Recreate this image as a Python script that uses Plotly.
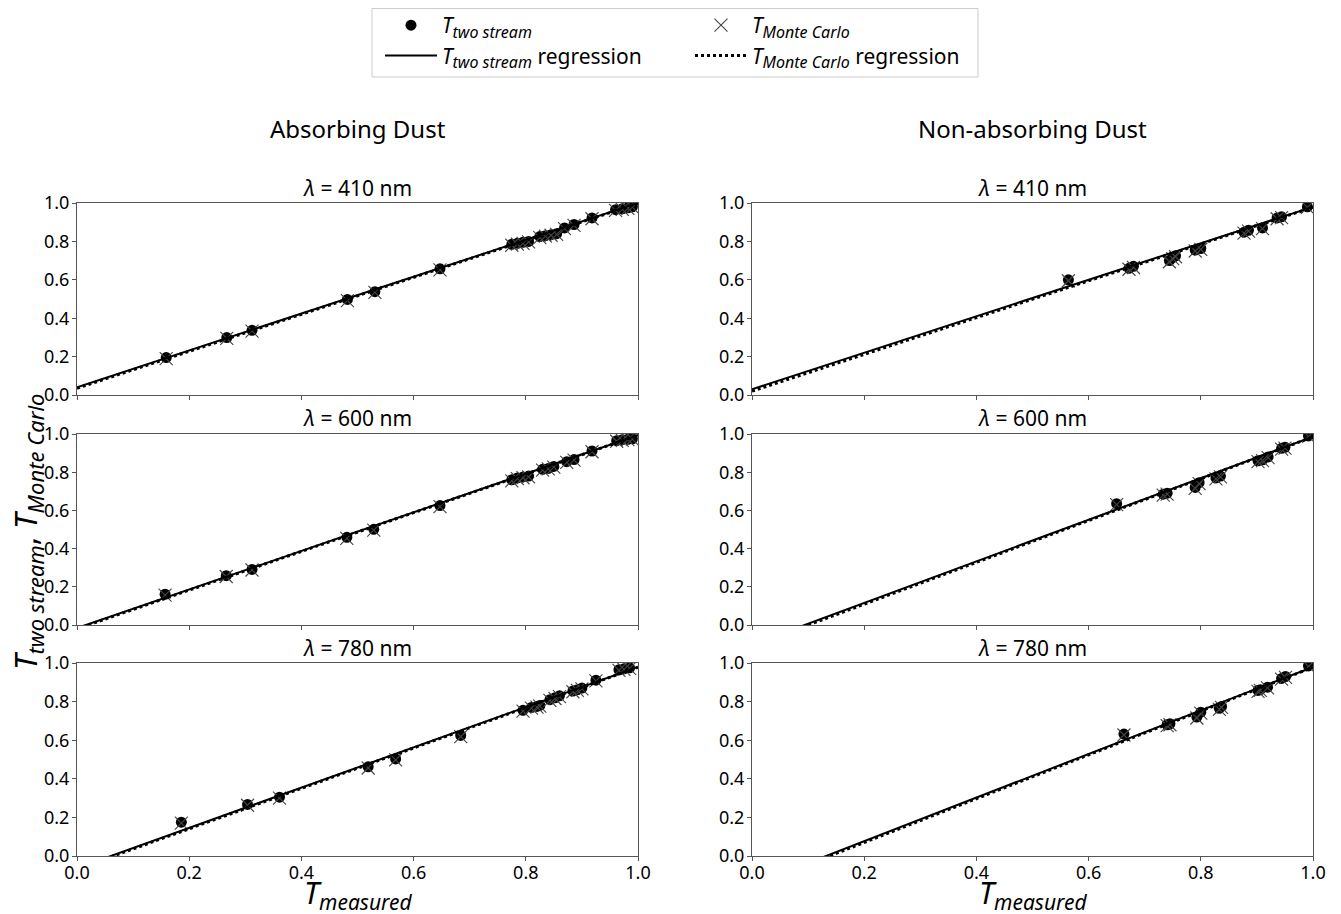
import plotly.graph_objects as go
from plotly.subplots import make_subplots

# ---------------- data ----------------
wavelengths = ["410", "600", "780"]
columns = ["Absorbing Dust", "Non-absorbing Dust"]

# Absorbing dust
abs_410_x   = [0.159, 0.267, 0.312, 0.482, 0.531, 0.647, 0.775, 0.785, 0.795, 0.805, 0.825, 0.835, 0.845, 0.855, 0.869, 0.886, 0.918, 0.960, 0.972, 0.982, 0.990]
abs_410_two = [0.195, 0.299, 0.337, 0.498, 0.538, 0.657, 0.785, 0.790, 0.795, 0.800, 0.825, 0.830, 0.835, 0.840, 0.870, 0.888, 0.922, 0.965, 0.970, 0.975, 0.980]
abs_410_mc  = [0.190, 0.295, 0.333, 0.492, 0.534, 0.652, 0.780, 0.786, 0.790, 0.797, 0.820, 0.827, 0.832, 0.837, 0.866, 0.884, 0.918, 0.962, 0.967, 0.972, 0.978]

abs_600_x   = [0.157, 0.266, 0.312, 0.481, 0.529, 0.647, 0.775, 0.785, 0.795, 0.805, 0.830, 0.840, 0.850, 0.873, 0.886, 0.918, 0.962, 0.972, 0.982, 0.990]
abs_600_two = [0.161, 0.258, 0.291, 0.459, 0.501, 0.625, 0.760, 0.770, 0.775, 0.780, 0.815, 0.820, 0.830, 0.855, 0.866, 0.911, 0.965, 0.970, 0.972, 0.975]
abs_600_mc  = [0.156, 0.254, 0.288, 0.453, 0.497, 0.620, 0.755, 0.766, 0.771, 0.776, 0.811, 0.817, 0.826, 0.851, 0.863, 0.907, 0.962, 0.967, 0.970, 0.973]

abs_780_x   = [0.186, 0.304, 0.361, 0.519, 0.568, 0.684, 0.795, 0.810, 0.820, 0.825, 0.843, 0.852, 0.860, 0.884, 0.892, 0.900, 0.925, 0.966, 0.975, 0.985]
abs_780_two = [0.175, 0.267, 0.305, 0.462, 0.503, 0.625, 0.755, 0.770, 0.775, 0.780, 0.810, 0.820, 0.830, 0.855, 0.862, 0.870, 0.911, 0.965, 0.970, 0.975]
abs_780_mc  = [0.170, 0.263, 0.300, 0.456, 0.498, 0.619, 0.751, 0.766, 0.771, 0.776, 0.806, 0.816, 0.826, 0.851, 0.858, 0.866, 0.907, 0.962, 0.967, 0.972]

# Non-absorbing dust
non_410_x   = [0.564, 0.672, 0.680, 0.744, 0.750, 0.755, 0.790, 0.800, 0.877, 0.885, 0.910, 0.936, 0.944, 0.990]
non_410_two = [0.600, 0.660, 0.670, 0.700, 0.715, 0.725, 0.755, 0.763, 0.848, 0.858, 0.870, 0.922, 0.928, 0.980]
non_410_mc  = [0.595, 0.655, 0.664, 0.694, 0.710, 0.720, 0.750, 0.758, 0.843, 0.853, 0.866, 0.918, 0.924, 0.977]

non_600_x   = [0.650, 0.733, 0.740, 0.790, 0.797, 0.827, 0.835, 0.902, 0.910, 0.920, 0.944, 0.950, 0.992]
non_600_two = [0.635, 0.685, 0.690, 0.720, 0.745, 0.770, 0.780, 0.860, 0.865, 0.880, 0.925, 0.930, 0.990]
non_600_mc  = [0.630, 0.680, 0.685, 0.715, 0.740, 0.765, 0.775, 0.855, 0.861, 0.876, 0.921, 0.926, 0.987]

non_780_x   = [0.663, 0.740, 0.745, 0.793, 0.800, 0.833, 0.837, 0.902, 0.906, 0.919, 0.944, 0.951, 0.992]
non_780_two = [0.632, 0.680, 0.685, 0.720, 0.745, 0.765, 0.775, 0.858, 0.862, 0.875, 0.920, 0.930, 0.985]
non_780_mc  = [0.627, 0.675, 0.680, 0.715, 0.740, 0.760, 0.770, 0.853, 0.858, 0.871, 0.916, 0.926, 0.982]

# regression (intercept, slope) for two-stream and Monte Carlo
abs_reg_two = [(0.040, 0.960), (-0.016, 1.010), (-0.063, 1.043)]
abs_reg_mc  = [(0.035, 0.963), (-0.020, 1.013), (-0.068, 1.046)]
non_reg_two = [(0.030, 0.950), (-0.102, 1.088), (-0.149, 1.129)]
non_reg_mc  = [(0.020, 0.958), (-0.110, 1.095), (-0.157, 1.135)]
reg_x = [0.0, 1.0]

panels = {
    (0, 0): (abs_410_x, abs_410_two, abs_410_mc, abs_reg_two[0], abs_reg_mc[0]),
    (1, 0): (abs_600_x, abs_600_two, abs_600_mc, abs_reg_two[1], abs_reg_mc[1]),
    (2, 0): (abs_780_x, abs_780_two, abs_780_mc, abs_reg_two[2], abs_reg_mc[2]),
    (0, 1): (non_410_x, non_410_two, non_410_mc, non_reg_two[0], non_reg_mc[0]),
    (1, 1): (non_600_x, non_600_two, non_600_mc, non_reg_two[1], non_reg_mc[1]),
    (2, 1): (non_780_x, non_780_two, non_780_mc, non_reg_two[2], non_reg_mc[2]),
}

# ---------------- layout geometry ----------------
W, H = 1341, 914
OFF = 8  # page body margin offset
FONT = "Noto Sans"
col_px = [(77 - OFF, 638 - OFF), (752 - OFF, 1313 - OFF)]
row_px = [(203 - OFF, 395 - OFF), (434 - OFF, 625 - OFF), (663 - OFF, 856 - OFF)]


def px_x(p):
    return (p - OFF) / W


def px_y(p):
    return 1 - (p - OFF) / H


def sub(text, px):
    return f'<sub><span style="font-size:{px}px">{text}</span></sub>'


fig = make_subplots(rows=3, cols=2)

lab_two = "<i>T" + sub("two stream", 16) + "</i>"
lab_mc = "<i>T" + sub("Monte Carlo", 16) + "</i>"

for (r, c), (xs, ytwo, ymc, rtwo, rmc) in panels.items():
    first = (r == 0 and c == 0)
    fig.add_trace(go.Scatter(
        x=xs, y=ytwo, mode="markers",
        marker=dict(symbol="circle", size=11, color="black"),
        name=lab_two, showlegend=first, legend="legend"), row=r + 1, col=c + 1)
    fig.add_trace(go.Scatter(
        x=xs, y=ymc, mode="markers",
        marker=dict(symbol="x-thin-open", size=13, color="#444",
                    line=dict(width=1.1, color="#444")),
        name=lab_mc, showlegend=first, legend="legend2"), row=r + 1, col=c + 1)
    fig.add_trace(go.Scatter(
        x=reg_x, y=[rtwo[0] + rtwo[1] * v for v in reg_x], mode="lines",
        line=dict(color="black", width=2),
        name=lab_two + " regression", showlegend=first, legend="legend"), row=r + 1, col=c + 1)
    fig.add_trace(go.Scatter(
        x=reg_x, y=[rmc[0] + rmc[1] * v for v in reg_x], mode="lines",
        line=dict(color="black", width=3, dash="dot"),
        name=lab_mc + " regression", showlegend=first, legend="legend2"), row=r + 1, col=c + 1)

axis_common = dict(
    range=[0, 1], dtick=0.2, tickformat=".1f", showgrid=False, zeroline=False,
    showline=True, mirror=True, linecolor="#555", linewidth=1.2,
    ticks="outside", ticklen=4, tickwidth=1, tickcolor="#555",
    tickfont=dict(family=FONT, size=18, color="black"), automargin=False,
)

for r in range(3):
    for c in range(2):
        idx = r * 2 + c + 1
        xd = [col_px[c][0] / W, col_px[c][1] / W]
        yd = [1 - row_px[r][1] / H, 1 - row_px[r][0] / H]
        xa = "xaxis" if idx == 1 else f"xaxis{idx}"
        ya = "yaxis" if idx == 1 else f"yaxis{idx}"
        fig.layout[xa].update(domain=xd, showticklabels=(r == 2), **axis_common)
        fig.layout[ya].update(domain=yd, **axis_common)

fig.update_xaxes(ticklabelstandoff=-4)
fig.update_yaxes(ticklabelstandoff=-1)

annotations = []
# column titles
for c, title in enumerate(columns):
    cx = (col_px[c][0] + col_px[c][1]) / 2 / W
    annotations.append(dict(text=title, x=cx, y=px_y(128), xref="paper", yref="paper",
                            showarrow=False, xanchor="center", yanchor="middle",
                            font=dict(family=FONT, size=24, color="black")))
# panel titles
title_y = [188, 418, 648]
for r, wl in enumerate(wavelengths):
    for c in range(2):
        cx = (col_px[c][0] + col_px[c][1]) / 2 / W
        annotations.append(dict(text=f"<i>λ</i> = {wl} nm", x=cx, y=px_y(title_y[r]),
                                xref="paper", yref="paper", showarrow=False,
                                xanchor="center", yanchor="middle",
                                font=dict(family=FONT, size=21, color="black")))
# x axis titles
for c in range(2):
    cx = (col_px[c][0] + col_px[c][1]) / 2 / W
    annotations.append(dict(text="<i>T" + sub("measured", 21) + "</i>", x=cx, y=px_y(894),
                            xref="paper", yref="paper", showarrow=False,
                            xanchor="center", yanchor="middle",
                            font=dict(family=FONT, size=30, color="black")))
# y axis title
annotations.append(dict(text="<i>T" + sub("two stream", 22) + "</i>, <i>T" + sub("Monte Carlo", 22) + "</i>",
                        x=px_x(27), y=px_y(532), xref="paper", yref="paper", showarrow=False,
                        textangle=-90, xanchor="center", yanchor="middle",
                        font=dict(family=FONT, size=31, color="black")))

legend_common = dict(
    orientation="v", xanchor="left", yanchor="top",
    bgcolor="rgba(0,0,0,0)", borderwidth=0,
    font=dict(family=FONT, size=21, color="black"),
    tracegroupgap=0, itemwidth=52,
)

fig.update_layout(
    width=W, height=H,
    margin=dict(l=0, r=0, t=0, b=0, autoexpand=False),
    paper_bgcolor="white", plot_bgcolor="white",
    annotations=annotations,
    legend=dict(x=px_x(380), y=px_y(5), **legend_common),
    legend2=dict(x=px_x(690), y=px_y(5), **legend_common),
    shapes=[dict(type="rect", xref="paper", yref="paper",
                 x0=px_x(372), x1=px_x(978), y0=px_y(77), y1=1 - 0.5 / H,
                 line=dict(color="#cccccc", width=1), fillcolor="rgba(0,0,0,0)")],
    showlegend=True,
)

fig.write_html("out.html")
